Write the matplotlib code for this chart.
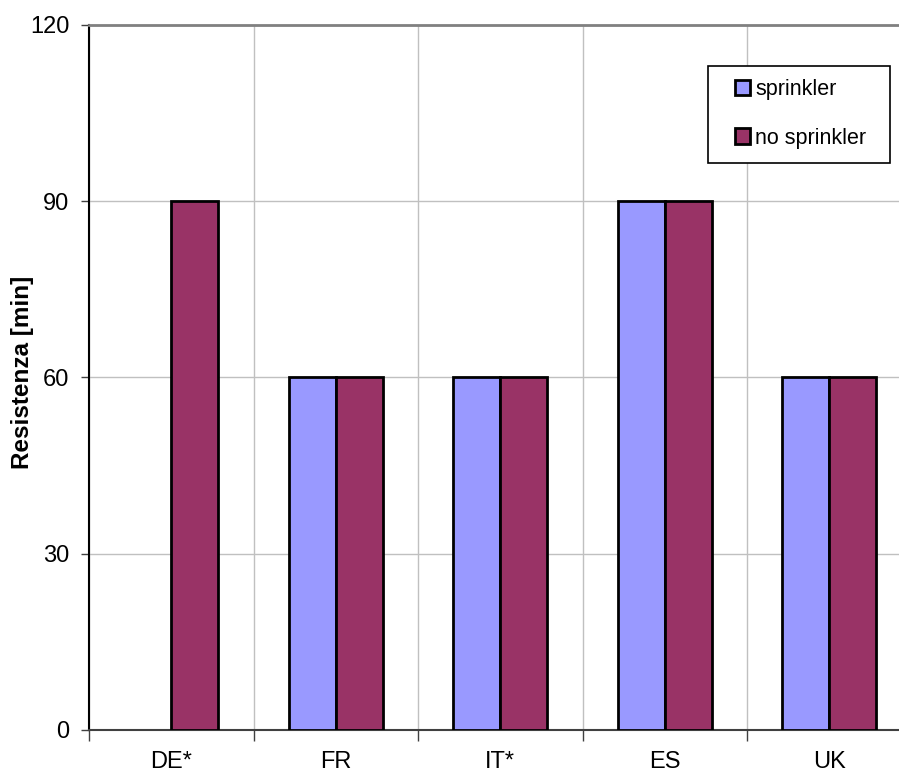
import matplotlib
matplotlib.use("Agg")
import matplotlib.pyplot as plt
from matplotlib.patches import Rectangle
import numpy as np

categories = ["DE*", "FR", "IT*", "ES", "UK"]
sprinkler = [0, 60, 60, 90, 60]
no_sprinkler = [90, 60, 60, 90, 60]
series_labels = ["sprinkler", "no sprinkler"]
y_ticks = [0, 30, 60, 90, 120]

plt.rcParams['font.family'] = ['Liberation Sans', 'DejaVu Sans']

fig = plt.figure(figsize=(8.99, 7.76), dpi=100)
ax = fig.add_axes([0.099, 0.0593, 0.915, 0.9085])

x = np.arange(len(categories))
w = 0.285
# empty entries are left out rather than drawn as flat bars
spr = np.array(sprinkler, dtype=float)
spr[spr == 0] = np.nan
nospr = np.array(no_sprinkler, dtype=float)
nospr[nospr == 0] = np.nan
ax.bar(x - w / 2, spr, w, color="#9999FF", edgecolor="black", linewidth=2,
       label=series_labels[0], zorder=3)
ax.bar(x + w / 2, nospr, w, color="#993366", edgecolor="black", linewidth=2,
       label=series_labels[1], zorder=3)

ax.set_xlim(-0.5, len(categories) - 0.5)
ax.set_ylim(0, 120)
ax.set_yticks(y_ticks)
ax.set_yticklabels([str(v) for v in y_ticks], fontsize=17)
ax.set_xticks(x)
ax.set_xticklabels(categories, fontsize=17)
ax.tick_params(axis="x", length=0, pad=15)
ax.tick_params(axis="y", length=6, width=1, color="#404040", pad=8, direction="out")

# minor ticks mark the category boundaries and carry the vertical grid
ax.set_xticks(np.arange(len(categories) + 1) - 0.5, minor=True)
ax.tick_params(axis="x", which="minor", length=8, width=1, color="#404040", direction="out")
ax.grid(True, which="minor", axis="x", color="#c0c0c0", linewidth=1, zorder=0)
ax.grid(True, which="major", axis="y", color="#c0c0c0", linewidth=1, zorder=0)

ax.spines["right"].set_visible(False)
ax.spines["top"].set_color("#808080")
ax.spines["top"].set_linewidth(2)
ax.spines["left"].set_color("black")
ax.spines["left"].set_linewidth(1.5)
ax.spines["bottom"].set_color("#404040")
ax.spines["bottom"].set_linewidth(1.5)

fig.text(23 / 899, 1 - 372 / 776, "Resistenza [min]", rotation=90, ha="center",
         va="center", fontsize=17.5, fontweight="bold")

# legend box
fig.patches.append(Rectangle((0.7875, 0.7899), 0.2024, 0.125, transform=fig.transFigure,
                             facecolor="white", edgecolor="black", linewidth=1.2, zorder=5))
leg = fig.legend(*ax.get_legend_handles_labels(), loc="upper left",
                 bbox_to_anchor=(0.8176, 0.8982), bbox_transform=fig.transFigure,
                 fontsize=15.5, frameon=False,
                 handlelength=0.7, handleheight=0.7, handletextpad=0.25,
                 labelspacing=1.28, borderpad=0, borderaxespad=0)
leg.set_zorder(6)
for h in leg.legend_handles:
    h.set_linewidth(2)

fig.savefig("out.png", dpi=100)
